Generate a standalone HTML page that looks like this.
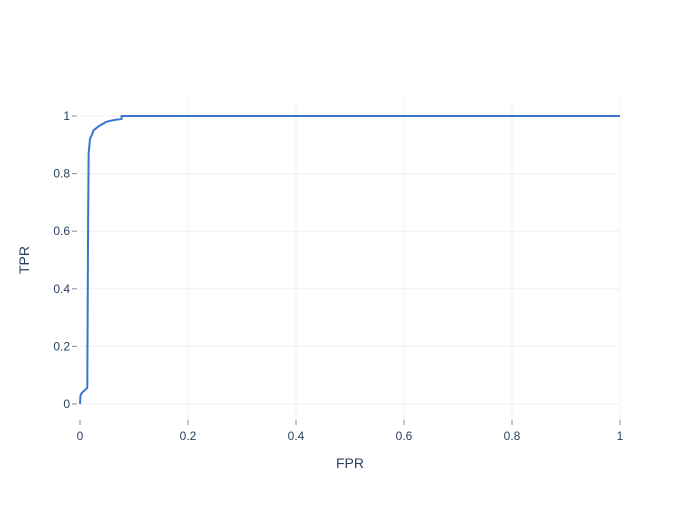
<!DOCTYPE html>
<html><head><meta charset="utf-8"><style>
body{margin:0;background:#fff}
text{font-family:"Liberation Sans",sans-serif;fill:#2a3f5f}
</style></head><body>
<svg id="chart" width="700" height="500">
<g id="grid"></g><g id="ticks"></g>
<path id="curve" fill="none" stroke="#3b73d0" stroke-width="2"></path>
<text x="350" y="468" text-anchor="middle" font-size="14">FPR</text>
<text transform="translate(29,260) rotate(-90)" text-anchor="middle" font-size="14">TPR</text>
</svg>
<script>
const fpr=[0,0.001,0.003,0.0135,0.015,0.016,0.0185,0.022,0.025,0.035,0.049,0.06,0.077,0.077,1];
const tpr=[0,0.03,0.038,0.056,0.63,0.87,0.92,0.935,0.95,0.965,0.98,0.985,0.99,1,1];
const xTicks=[0,0.2,0.4,0.6,0.8,1];
const yTicks=[0,0.2,0.4,0.6,0.8,1];
const xTickLabels=["0","0.2","0.4","0.6","0.8","1"];
const yTickLabels=["0","0.2","0.4","0.6","0.8","1"];
const X=v=>80+v*540, Y=v=>404-v*288;
const ns="http://www.w3.org/2000/svg";
const grid=document.getElementById('grid'),ticks=document.getElementById('ticks');
function mk(tag,attrs,parent){const e=document.createElementNS(ns,tag);for(const k in attrs)e.setAttribute(k,attrs[k]);parent.appendChild(e);return e;}
xTicks.forEach((v,i)=>{
 if(v>0){const g=mk('line',{x1:X(v),x2:X(v),y1:100,y2:420,stroke:'#ebf0f8','stroke-width':1},grid);
 
 }
 mk('line',{x1:X(v),x2:X(v),y1:420,y2:425,stroke:'#888'},ticks);
 const t=mk('text',{x:X(v),y:440,'text-anchor':'middle','font-size':12},ticks);t.textContent=xTickLabels[i];
 
 
});
yTicks.forEach((v,i)=>{
 const g=mk('line',{x1:80,x2:620,y1:Y(v),y2:Y(v),stroke:'#ebf0f8','stroke-width':1},grid);
 
 
 mk('line',{x1:72,x2:77,y1:Y(v),y2:Y(v),stroke:'#888'},ticks);
 const t=mk('text',{x:70,y:Y(v)+4,'text-anchor':'end','font-size':12},ticks);t.textContent=yTickLabels[i];
 
 
});
document.getElementById('curve').setAttribute('d',fpr.map((v,i)=>(i?'L':'M')+X(v)+','+Y(tpr[i])).join(''));
</script>
</body></html>
